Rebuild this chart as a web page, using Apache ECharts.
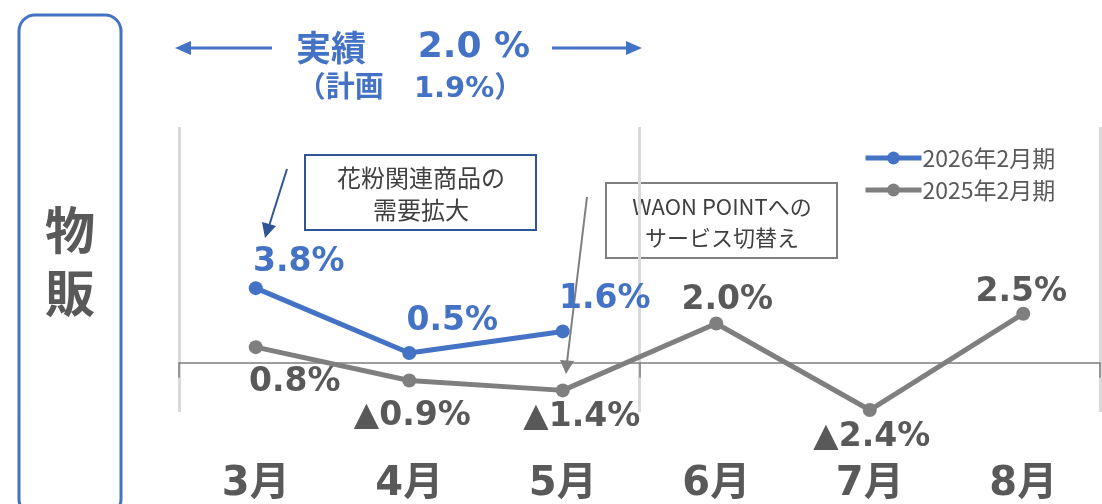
<!DOCTYPE html>
<html><head><meta charset="utf-8">
<script src="https://cdn.jsdelivr.net/npm/echarts@6/dist/echarts.min.js"></script>
<style>html,body{margin:0;padding:0;background:#fff}#c{width:1102px;height:504px}</style>
</head><body><div id="c"></div>
<script>
const categories = ['3月','4月','5月','6月','7月','8月'];
const series2026 = [3.8, 0.5, 1.6, null, null, null];
const series2025 = [0.8, -0.9, -1.4, 2.0, -2.4, 2.5];
const name2026 = '2026年2月期';
const name2025 = '2025年2月期';

const BLUE = '#4472C4', GRAY = '#7F7F7F', TXT = '#595959';
const NUMF = 'DejaVu Sans, "Noto Sans CJK JP", sans-serif';
const JPF = '"Noto Sans CJK JP", sans-serif';

const off2026 = [[43,-26],[43,-32],[42,-32]];
const off2025 = [[39,35],[3,36],[19,27],[11,-23],[2,27],[-2,-21]];
const fmt = v => (v < 0 ? '▲' + Math.abs(v).toFixed(1) : v.toFixed(1)) + '%';

function build(vals, offs) {
  return vals.map((v, i) => v == null ? null : ({
    value: v,
    label: { offset: offs[i] }
  }));
}

const chart = echarts.init(document.getElementById('c'));
chart.setOption({
  animation: false,
  grid: { left: 179, right: 2, top: 127, bottom: 504 - 412, containLabel: false, outerBoundsMode: 'none' },
  legend: {
    data: [name2026, name2025],
    orient: 'vertical', left: 858, top: 139, itemGap: 4,
    itemWidth: 56, itemHeight: 16,
    lineStyle: { width: 5 },
    textStyle: { fontSize: 23, color: TXT, fontFamily: JPF, lineHeight: 28, padding: [0,0,0,-4] }
  },
  xAxis: {
    type: 'category', data: categories, boundaryGap: true,
    axisLine: { onZero: true, lineStyle: { color: GRAY, width: 1.5 } },
    axisTick: { show: true, interval: 2, length: 15, lineStyle: { color: GRAY, width: 1.5 } },
    splitLine: { show: true, interval: 2, lineStyle: { color: '#D9D9D9', width: 3 } },
    axisLabel: { show: true, margin: 53, fontSize: 40, fontWeight: 'bold', color: TXT, fontFamily: NUMF }
  },
  yAxis: {
    type: 'value', min: -2.5, max: 12, show: false,
    splitLine: { show: false }
  },
  series: [
    {
      name: name2025, type: 'line', data: build(series2025, off2025),
      symbol: 'circle', symbolSize: 14, z: 2,
      lineStyle: { color: GRAY, width: 5 }, itemStyle: { color: GRAY },
      label: { show: true, position: 'inside', formatter: p => fmt(p.value),
        fontSize: 33, fontWeight: 'bold', color: TXT, fontFamily: NUMF }
    },
    {
      name: name2026, type: 'line', data: build(series2026, off2026),
      symbol: 'circle', symbolSize: 14, z: 3,
      lineStyle: { color: BLUE, width: 5 }, itemStyle: { color: BLUE },
      label: { show: true, position: 'inside', formatter: p => fmt(p.value),
        fontSize: 33, fontWeight: 'bold', color: BLUE, fontFamily: NUMF }
    }
  ],
  graphic: [
    { type: 'rect', shape: { x: 19, y: 15, width: 102, height: 500, r: 16 },
      style: { fill: '#fff', stroke: BLUE, lineWidth: 3 }, z: -1 },
    { type: 'text', x: 70, y: 230, style: { text: '物', fontSize: 50, fontWeight: 'bold', fill: TXT, fontFamily: JPF, align: 'center', verticalAlign: 'middle' } },
    { type: 'text', x: 70, y: 293, style: { text: '販', fontSize: 50, fontWeight: 'bold', fill: TXT, fontFamily: JPF, align: 'center', verticalAlign: 'middle' } },
    // top headline
    { type: 'text', x: 331, y: 48, style: { text: '実績', fontSize: 35, fontWeight: 'bold', fill: BLUE, fontFamily: JPF, align: 'center', verticalAlign: 'middle' } },
    { type: 'text', x: 474, y: 48, style: { text: '2.0 %', fontSize: 36, fontWeight: 'bold', fill: BLUE, fontFamily: NUMF, align: 'center', verticalAlign: 'middle' } },
    { type: 'text', x: 410, y: 89, style: { text: '（計画   1.9%）', fontSize: 29, fontWeight: 'bold', fill: BLUE, fontFamily: NUMF, align: 'center', verticalAlign: 'middle' } },
    { type: 'line', shape: { x1: 188, y1: 48, x2: 272, y2: 48 }, style: { stroke: BLUE, lineWidth: 3 } },
    { type: 'polygon', shape: { points: [[175,48],[191,41],[191,55]] }, style: { fill: BLUE } },
    { type: 'line', shape: { x1: 552, y1: 48, x2: 628, y2: 48 }, style: { stroke: BLUE, lineWidth: 3 } },
    { type: 'polygon', shape: { points: [[642,48],[626,41],[626,55]] }, style: { fill: BLUE } },
    // annotation 1
    { type: 'rect', shape: { x: 305, y: 155, width: 231, height: 75 }, style: { fill: '#fff', stroke: '#2F5597', lineWidth: 2 } },
    { type: 'text', x: 421, y: 194, style: { text: '花粉関連商品の\n需要拡大', fontSize: 24, lineHeight: 32, fill: '#404040', fontFamily: JPF, align: 'center', verticalAlign: 'middle' } },
    { type: 'line', shape: { x1: 287, y1: 169, x2: 269, y2: 226 }, style: { stroke: '#2F5597', lineWidth: 2 } },
    { type: 'polygon', shape: { points: [[265,238],[262,222],[276,226]] }, style: { fill: '#2F5597' } },
    // annotation 2
    { type: 'rect', shape: { x: 606, y: 183, width: 231, height: 75 }, style: { fill: '#fff', stroke: GRAY, lineWidth: 2 } },
    { type: 'text', x: 722, y: 222, style: { text: 'WAON POINTへの\nサービス切替え', fontSize: 22, lineHeight: 31, fill: '#404040', fontFamily: JPF, align: 'center', verticalAlign: 'middle' } },
    { type: 'line', shape: { x1: 587, y1: 197, x2: 567, y2: 362 }, style: { stroke: GRAY, lineWidth: 2 } },
    { type: 'polygon', shape: { points: [[566,374],[560,360],[574,361]] }, style: { fill: GRAY } }
  ]
});
</script></body></html>
